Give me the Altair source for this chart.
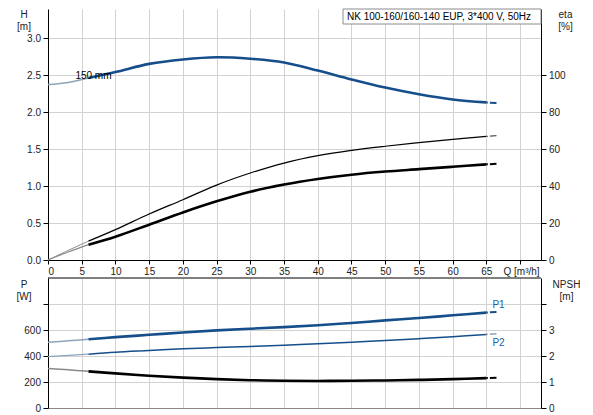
import altair as alt
import pandas as pd

# ---------------- data ----------------
Q = [0, 3, 6, 10, 15, 20, 25, 30, 35, 40, 45, 50, 55, 60, 65, 66.5]
H = [2.37, 2.40, 2.46, 2.54, 2.65, 2.71, 2.74, 2.72, 2.67, 2.56, 2.44, 2.33, 2.24, 2.17, 2.13, 2.12]
ETA_PUMP = [0, 5.2, 10.2, 16.4, 24.9, 32.6, 40.5, 47.0, 52.4, 56.4, 59.3, 61.5, 63.4, 65.2, 66.8, 67.2]
ETA_TOTAL = [0, 4.3, 8.3, 12.6, 19.1, 25.7, 31.7, 36.9, 40.8, 43.8, 46.1, 47.8, 49.1, 50.4, 51.7, 52.0]
P1 = [506, 517, 529, 545, 563, 581, 597, 610, 622, 636, 654, 674, 692, 713, 734, 739]
P2 = [395, 405, 414, 429, 442, 455, 465, 474, 483, 494, 506, 519, 533, 548, 566, 571]
NPSH = [1.52, 1.47, 1.41, 1.33, 1.24, 1.17, 1.11, 1.07, 1.05, 1.04, 1.05, 1.06, 1.08, 1.11, 1.15, 1.16]

Q_TICKS = [0, 5, 10, 15, 20, 25, 30, 35, 40, 45, 50, 55, 60, 65, 70]
H_TICKS = [0.0, 0.5, 1.0, 1.5, 2.0, 2.5, 3.0]
ETA_TICKS = [0, 20, 40, 60, 80, 100]
P_TICKS = [0, 200, 400, 600, 800]
NPSH_TICKS = [0, 1, 2, 3, 4]

TITLE_TEXT = "NK 100-160/160-140 EUP, 3*400 V, 50Hz"
IMPELLER = "150 mm"

# ---------------- styling ----------------
FONT = "Liberation Sans"
BLUE = "#154e8b"
LIGHT_BLUE = "#8ea3bb"
GREY = "#8a8a8a"
GRID = "#d2d2d2"
W = 493
HT = 251
HB = 130
XMAX = 73.1
H_TOP = HT / 74.0
ETA_TOP = H_TOP * 40
SEGS = [("start", 0, 6), ("main", 6, 65), ("end", 65, 100)]


def frame(values):
    rows = []
    for q, v in zip(Q, values):
        for seg, lo, hi in SEGS:
            if lo <= q <= hi:
                rows.append({"Q": q, "v": v, "seg": seg})
    return pd.DataFrame(rows)


def xenc(top=True):
    if top:
        ax = alt.Axis(values=Q_TICKS, labelExpr="datum.value == 70 ? '' : datum.label",
                      grid=True, gridColor=GRID, tickSize=4, labelPadding=2,
                      title="Q [m³/h]", titleX=455, titleY=6, titleAlign="left",
                      titleBaseline="top", titleAngle=0)
    else:
        ax = alt.Axis(values=Q_TICKS, labels=False, ticks=False, grid=True,
                      gridColor=GRID, title=None, domainColor="#888888")
    return alt.X("Q:Q", scale=alt.Scale(domain=[0, XMAX], nice=False, zero=False), axis=ax)


def yenc(domain, ticks, orient, title, tx, fmt=None, hide=None, ty=0):
    kw = dict(values=ticks, orient=orient, title=title, titleAngle=0, titleX=tx, titleY=ty,
              titleAlign="center", titleBaseline="top", titleLineHeight=12.5,
              tickSize=5, labelPadding=2.5, grid=(orient == "left"), gridColor=GRID)
    if fmt:
        kw["format"] = fmt
    if hide is not None:
        kw["labelExpr"] = "datum.value == %s ? '' : datum.label" % hide
    return alt.Y("v:Q", scale=alt.Scale(domain=domain, nice=False, zero=False), axis=alt.Axis(**kw))


def curve(values, styles, y, top=True):
    df = frame(values)
    layers = []
    for seg, _, _ in SEGS:
        color, width, dash = styles[seg]
        mk = dict(color=color, strokeWidth=width, interpolate="catmull-rom")
        if dash:
            mk["strokeDash"] = dash
        layers.append(alt.Chart(df[df.seg == seg]).mark_line(**mk).encode(x=xenc(top), y=y))
    return layers


DASH = [1.5, 2, 8, 2]

# ---------------- top panel ----------------
yH = yenc([0, H_TOP], H_TICKS, "left", ["H", "[m]"], -24.5, fmt=".1f")
yE = yenc([0, ETA_TOP], ETA_TICKS, "right", ["eta", "[%]"], 24)

h_layers = curve(H, {"start": (LIGHT_BLUE, 1.5, None), "main": (BLUE, 2.6, None),
                     "end": (BLUE, 2.0, DASH)}, yH)
lbl = pd.DataFrame({"Q": [Q[2]], "v": [H[2]], "t": [IMPELLER]})
h_layers.append(alt.Chart(lbl).mark_text(font=FONT, fontSize=10, color="black", dx=5, dy=-2)
                .encode(x=xenc(), y=yH, text="t:N"))

e_layers = curve(ETA_PUMP, {"start": (GREY, 1.0, None), "main": ("black", 1.2, None),
                            "end": ("#555555", 1.2, DASH)}, yE)
e_layers += curve(ETA_TOTAL, {"start": (GREY, 1.2, None), "main": ("black", 2.6, None),
                              "end": ("black", 2.0, DASH)}, yE)

box = pd.DataFrame({"t": [TITLE_TEXT]})
title_rect = alt.Chart(box).mark_rect(fill="white", stroke="#8c8c8c", strokeWidth=1).encode(
    x=alt.value(295), x2=alt.value(W), y=alt.value(0), y2=alt.value(15))
title_txt = alt.Chart(box).mark_text(font=FONT, fontSize=10, color="black", align="left",
                                     baseline="middle").encode(
    x=alt.value(299), y=alt.value(7.5), text="t:N")

top = alt.layer(alt.layer(*h_layers), alt.layer(*e_layers), title_rect, title_txt).resolve_scale(
    y="independent").properties(width=W, height=HT)

# ---------------- bottom panel ----------------
yP = yenc([0, 1000], P_TICKS, "left", ["P", "[W]"], -24.5, hide=800, ty=1)
yN = yenc([0, 5], NPSH_TICKS, "right", ["NPSH", "[m]"], 25, hide=4, ty=1)

p_layers = curve(P1, {"start": (LIGHT_BLUE, 1.5, None), "main": (BLUE, 2.6, None),
                      "end": (BLUE, 2.0, DASH)}, yP, top=False)
p_layers += curve(P2, {"start": (LIGHT_BLUE, 1.2, None), "main": (BLUE, 1.5, None),
                       "end": (LIGHT_BLUE, 1.5, DASH)}, yP, top=False)
p1_lbl = pd.DataFrame({"Q": [Q[-1]], "v": [P1[-1]], "t": ["P1"]})
p2_lbl = pd.DataFrame({"Q": [Q[-1]], "v": [P2[-1]], "t": ["P2"]})
p_layers.append(alt.Chart(p1_lbl).mark_text(font=FONT, fontSize=10, color="#2160a0", dx=2, dy=-7)
                .encode(x=xenc(False), y=yP, text="t:N"))
p_layers.append(alt.Chart(p2_lbl).mark_text(font=FONT, fontSize=10, color="#2160a0", dx=2, dy=9)
                .encode(x=xenc(False), y=yP, text="t:N"))

n_layers = curve(NPSH, {"start": (GREY, 1.5, None), "main": ("black", 2.6, None),
                        "end": ("black", 2.0, DASH)}, yN, top=False)

frame_top = alt.Chart(box).mark_rule(color="black", strokeWidth=1).encode(
    x=alt.value(0), x2=alt.value(W), y=alt.value(0))

bottom = alt.layer(alt.layer(*p_layers), alt.layer(*n_layers), frame_top).resolve_scale(
    y="independent").properties(width=W, height=HB)

chart = alt.vconcat(top, bottom, spacing=18, bounds="flush").properties(
    padding={"left": 8, "top": 0, "right": 0, "bottom": 0}, background="white"
).configure_view(stroke=None).configure_axis(
    labelFont=FONT, titleFont=FONT, labelFontSize=10, titleFontSize=10,
    labelColor="#222222", titleColor="#222222", titleFontWeight="normal",
    domainColor="black", tickColor="black", domainWidth=1, tickWidth=1, gridWidth=1
)

chart.save("out.html", embed_options={"renderer": "svg", "actions": False})
